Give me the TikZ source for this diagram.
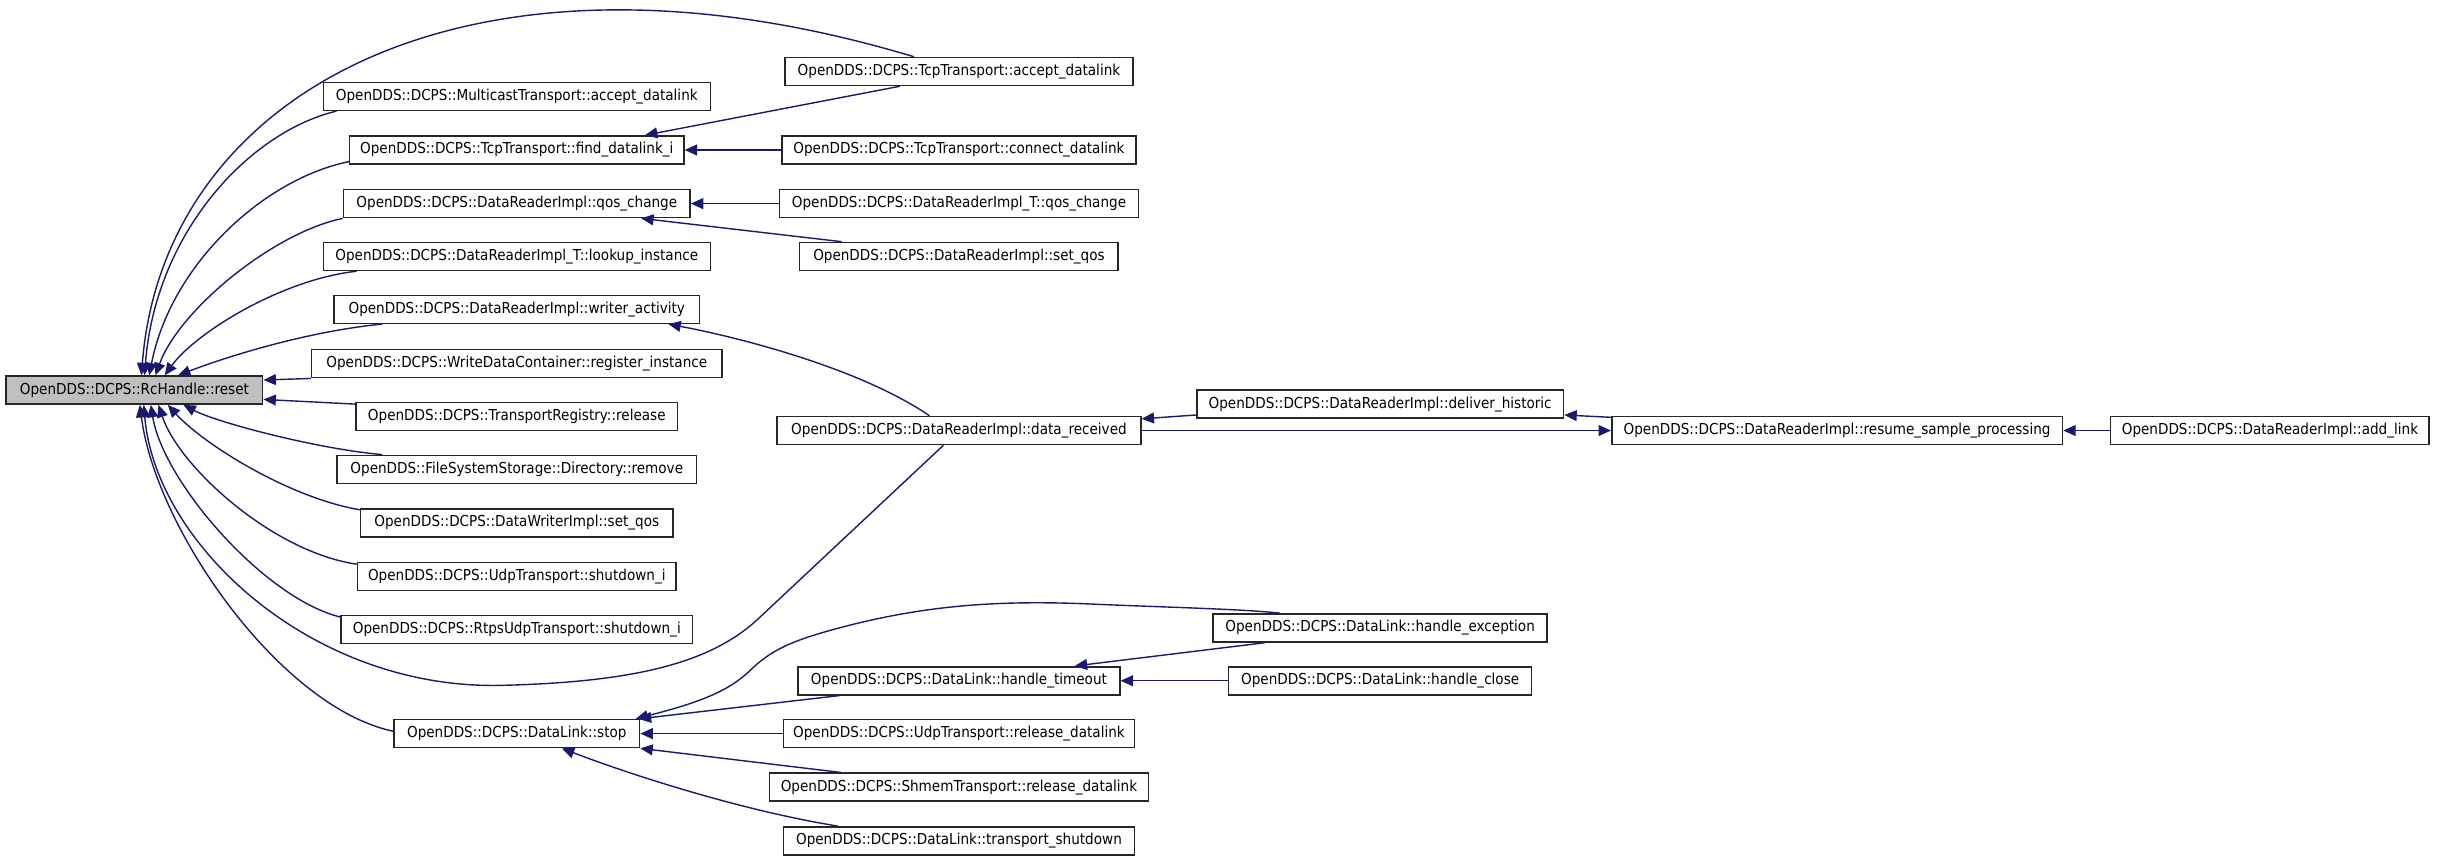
\documentclass[tikz,border=0pt]{standalone}
\usepackage{fontspec}
\setmainfont{DejaVu Sans}[FakeStretch=0.9]
\usetikzlibrary{positioning,arrows.meta}

\definecolor{edgeblue}{HTML}{191970}
\definecolor{boxgray}{HTML}{BFBFBF}

\tikzset{
  fn/.style={draw=black!85,line width=1pt,fill=white,minimum height=18pt,
    inner xsep=3pt,inner ysep=0pt,font=\fontsize{9.7}{11}\selectfont},
  call/.style={draw=edgeblue,line width=0.9pt,{Triangle[length=8pt,width=7pt]}-},
}

\begin{document}
\begin{tikzpicture}[x=1pt,y=-1pt]
\useasboundingbox (0,0) rectangle (1568,554);

\node[fn,fill=boxgray,minimum width=165pt] (reset) at (86.5,251) {OpenDDS::DCPS::RcHandle::reset};

\foreach \nm/\ypos/\bw/\txt in {
    multicast/62/249/OpenDDS::DCPS::MulticastTransport::accept\_datalink,
    find/96.5/215/OpenDDS::DCPS::TcpTransport::find\_datalink\_i,
    qos/131/223/OpenDDS::DCPS::DataReaderImpl::qos\_change,
    lookup/165/249/OpenDDS::DCPS::DataReaderImpl\_T::lookup\_instance,
    writer/199/235/OpenDDS::DCPS::DataReaderImpl::writer\_activity,
    register/234/264/OpenDDS::DCPS::WriteDataContainer::register\_instance,
    release/268/207/OpenDDS::DCPS::TransportRegistry::release,
    remove/302/231/OpenDDS::FileSystemStorage::Directory::remove,
    dwqos/336.5/201/OpenDDS::DCPS::DataWriterImpl::set\_qos,
    udpshut/371/205/OpenDDS::DCPS::UdpTransport::shutdown\_i,
    rtpsshut/405/226/OpenDDS::DCPS::RtpsUdpTransport::shutdown\_i,
    stop/472/158/OpenDDS::DCPS::DataLink::stop} {
    \node[fn,minimum width=\bw pt] (\nm) at (332.5,\ypos) {\txt};
}

\foreach \nm/\ypos/\bw/\txt in {
    tcpaccept/46/224/OpenDDS::DCPS::TcpTransport::accept\_datalink,
    connect/96.5/228/OpenDDS::DCPS::TcpTransport::connect\_datalink,
    drtqos/131/231/OpenDDS::DCPS::DataReaderImpl\_T::qos\_change,
    drqos/165/205/OpenDDS::DCPS::DataReaderImpl::set\_qos,
    datarecv/277/234/OpenDDS::DCPS::DataReaderImpl::data\_received,
    htimeout/438/207/OpenDDS::DCPS::DataLink::handle\_timeout,
    udprel/472/226/OpenDDS::DCPS::UdpTransport::release\_datalink,
    shmemrel/506.5/244/OpenDDS::DCPS::ShmemTransport::release\_datalink,
    tshut/541/226/OpenDDS::DCPS::DataLink::transport\_shutdown} {
    \node[fn,minimum width=\bw pt] (\nm) at (617,\ypos) {\txt};
}

\foreach \nm/\ypos/\bw/\txt in {
    deliver/260/236/OpenDDS::DCPS::DataReaderImpl::deliver\_historic,
    hexc/404/215/OpenDDS::DCPS::DataLink::handle\_exception,
    hclose/438/195/OpenDDS::DCPS::DataLink::handle\_close} {
    \node[fn,minimum width=\bw pt] (\nm) at (888,\ypos) {\txt};
}

\node[fn,minimum width=290pt] (resume) at (1182,277) {OpenDDS::DCPS::DataReaderImpl::resume\_sample\_processing};
\node[fn,minimum width=205pt] (addlink) at (1460.5,277) {OpenDDS::DCPS::DataReaderImpl::add\_link};

% callers of reset, from above
\draw[call] ([xshift=4.5pt]reset.north) .. controls (105,60) and (300,-50) .. ([xshift=-29pt]tcpaccept.north);
\draw[call] ([xshift=6.5pt]reset.north) .. controls (100,150) and (160,85) .. ([xshift=-116pt]multicast.south);
\draw[call] ([xshift=9.5pt]reset.north) .. controls (110,170) and (170,115) .. ([yshift=-7.5pt]find.west);
\draw[call] ([xshift=13.5pt]reset.north) .. controls (115,200) and (175,150) .. (qos.south west);
\draw[call] ([xshift=19.5pt]reset.north) .. controls (125,215) and (180,180) .. ([xshift=-103pt]lookup.south);
\draw[call] ([xshift=28pt]reset.north) .. controls (150,228) and (200,213) .. ([xshift=-86.5pt]writer.south);

\draw[call] ([yshift=6.5pt]reset.east) -- (register.south west);
\draw[call] ([yshift=-6pt]reset.east) -- ([yshift=-1.5pt]release.north west);

% callers of reset, from below
\draw[call] ([xshift=31.5pt]reset.south) .. controls (140,272) and (205,289) .. ([xshift=-86.5pt]remove.north);
\draw[call] ([xshift=21.5pt]reset.south) .. controls (130,285) and (185,320) .. ([yshift=8.5pt]dwqos.west);
\draw[call] ([xshift=15.5pt]reset.south) .. controls (115,300) and (175,355) .. ([yshift=8pt]udpshut.west);
\draw[call] ([xshift=10.5pt]reset.south) .. controls (105,310) and (170,385) .. ([yshift=8pt]rtpsshut.west);
\draw[call] ([xshift=6pt]reset.south) .. controls (100,350) and (200,443) .. (321,441)
    .. controls (410,439) and (458,426) .. (488,398) -- ([xshift=-10pt]datarecv.south);
\draw[call] ([xshift=3.5pt]reset.south) .. controls (100,340) and (180,455) .. ([yshift=1.5pt]stop.west);

% second level
\draw[call] ([xshift=82.5pt]find.north) -- ([xshift=-38pt]tcpaccept.south);
\draw[call] (find) -- (connect);
\draw[call] (qos) -- (drtqos);
\draw[call] ([xshift=80pt]qos.south) -- ([xshift=-75.5pt]drqos.north);
\draw[call] ([xshift=97.5pt]writer.south) .. controls (480,218) and (555,238) .. ([xshift=-19pt]datarecv.north);

\draw[call] ([yshift=7.5pt]datarecv.east) -- ([yshift=-7pt]deliver.west);
\draw[call] ([yshift=-7pt]deliver.east) -- ([yshift=8.5pt]resume.west);
\draw[call] (resume) -- (datarecv);
\draw[call] (resume) -- (addlink);

\draw[call] ([xshift=-3pt]stop.north east) .. controls (450,452) and (468,445) .. (482,432)
    .. controls (496,418) and (510,412) .. (540,404) .. controls (600,388) and (650,386) .. (710,389)
    .. controls (760,391) and (800,392) .. ([xshift=-64.5pt]hexc.north);
\draw[call] ([xshift=74.5pt]htimeout.north) -- ([xshift=-74pt]hexc.south);
\draw[call] ([xshift=-1pt]stop.north east) -- ([xshift=-76.5pt]htimeout.south);
\draw[call] (htimeout) -- (hclose);
\draw[call] (stop) -- (udprel);
\draw[call] (stop.south east) -- ([xshift=-76pt]shmemrel.north);
\draw[call] ([xshift=29pt]stop.south) .. controls (410,500) and (480,522) .. ([xshift=-78pt]tshut.north);
\end{tikzpicture}
\end{document}
